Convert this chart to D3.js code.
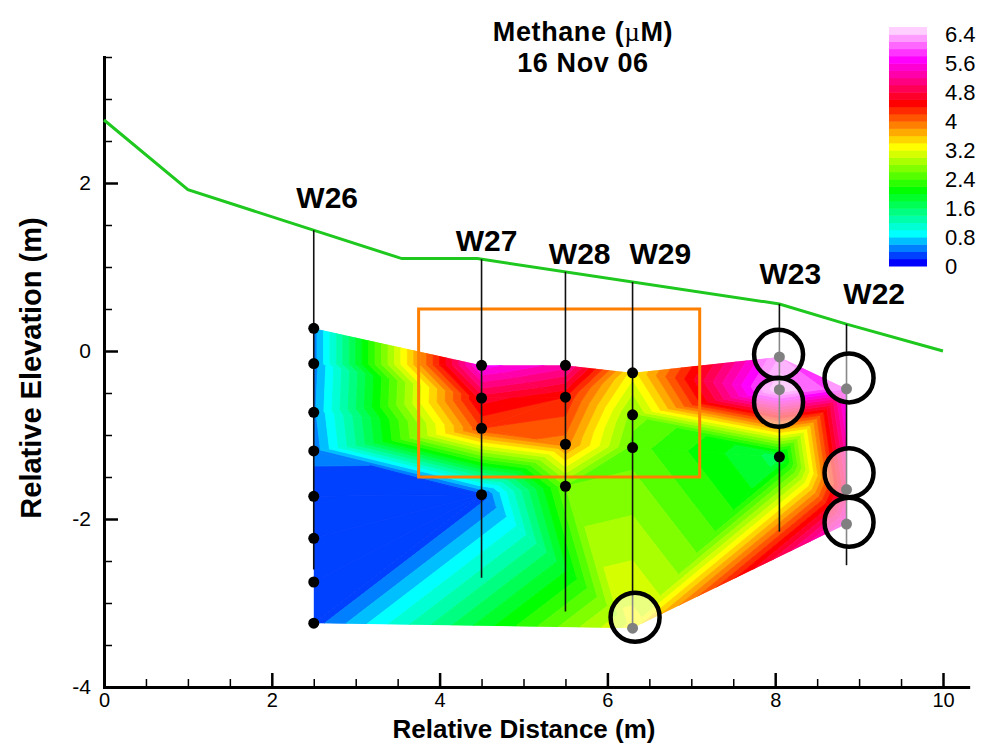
<!DOCTYPE html>
<html>
<head>
<meta charset="utf-8">
<script src="https://cdn.jsdelivr.net/npm/d3@7"></script>
<style>
  body { margin: 0; background: #fff; }
  svg { display: block; }
  text { font-family: "Liberation Sans", Arial, Helvetica, sans-serif; fill: #000; }
</style>
</head>
<body>
<svg id="chart" width="986" height="750"></svg>
<script>
// ---- Wells along the transect ----
const wellNames    = ["W26", "W27", "W28", "W29", "W23", "W22"];
const wellDistance = [2.5, 4.5, 5.5, 6.3, 8.05, 8.85];      // m
const wellBottom   = [-2.6, -2.7, -3.1, -3.3, -2.15, -2.55]; // m

// Sample elevations (m) in each well and the methane measured there (µM)
const sampleElevation = [
  [0.27, -0.15, -0.73, -1.19, -1.73, -2.23, -2.75, -3.24],
  [-0.17, -0.56, -0.92, -1.71],
  [-0.17, -0.55, -1.11, -1.61],
  [-0.26, -0.76, -1.15, -3.30],
  [-0.07, -0.46, -1.26],
  [-0.45, -1.65, -2.06]
];
const methane = [
  [0.5, 0.5, 0.55, 0.45, 0.3, 0.3, 0.3, 0.3],
  [5.7, 4.7, 4.2, 0.3],
  [5.3, 4.4, 3.9, 2.6],
  [3.3, 2.7, 2.5, 3.3],
  [6.0, 6.4, 1.7],
  [5.8, 5.0, 5.6]
];

// Outline of the sampled section, walked as [well, sample]
const outline = [
  [0, 0], [1, 0], [2, 0], [3, 0], [4, 0], [5, 0], [5, 1], [5, 2],
  [3, 3], [0, 7], [0, 6], [0, 5], [0, 4], [0, 3], [0, 2], [0, 1]
];

// Ground surface profile
const surfaceDistance  = [0, 1, 3.55, 4.45, 8.05, 8.85, 10];
const surfaceElevation = [2.75, 1.92, 1.1, 1.1, 0.56, 0.32, 0];

// Well name labels (data units)
const labelDistance  = [2.66, 4.56, 5.67, 6.63, 8.18, 9.18];
const labelElevation = [1.70, 1.19, 1.04, 1.04, 0.80, 0.56];

// Highlight circles (data units)
const circleDistance  = [6.33, 8.04, 8.04, 8.88, 8.88, 8.88];
const circleElevation = [-3.17, -0.04, -0.61, -0.32, -1.45, -2.04];

// Box around the zone of interest
const boxDistance  = [3.75, 7.1];
const boxElevation = [0.5, -1.5];

// Contour levels and colour map
const levelStep = 0.2;
const levelCount = 33;                 // bands 0 .. 6.6
const legendTicks = [0, 0.8, 1.6, 2.4, 3.2, 4, 4.8, 5.6, 6.4];
const colorStops  = [0.1, 0.9, 2.1, 3.3, 3.9, 4.5, 5.7, 6.5];
const colorValues = ["#0000ff", "#00ffff", "#00ff00", "#ffff00", "#ff8000", "#ff0000", "#ff00ff", "#ffd0ff"];

// Axis ticks
const xMajor = [0, 2, 4, 6, 8, 10];
const yMajor = [-4, -2, 0, 2];

// ---- Scales ----
const x = d3.scaleLinear().domain([0, 10.3]).range([104, 104 + 10.3 * 83.9]);
const y = d3.scaleLinear().domain([-4, 3.5]).range([687, 57]);
const color = d3.scaleLinear().domain(colorStops).range(colorValues).clamp(true);
const surfaceAt = d3.scaleLinear().domain(surfaceDistance).range(surfaceElevation);
const legendY = d3.scaleLinear().domain([0, levelStep * levelCount]).range([266, 27]);

const svg = d3.select("#chart");

// ---- Samples and triangulation ----
const samples = [];
wellNames.forEach((w, i) => sampleElevation[i].forEach((e, j) =>
  samples.push({ well: i, idx: j, d: wellDistance[i], e: e, v: methane[i][j] })));

const outlinePoly = outline.map(([w, j]) => [wellDistance[w], sampleElevation[w][j]]);
const delaunay = d3.Delaunay.from(samples, s => s.d, s => s.e);
const tris = [];
for (let t = 0; t < delaunay.triangles.length; t += 3) {
  const p = [0, 1, 2].map(k => samples[delaunay.triangles[t + k]]);
  const c = [d3.mean(p, s => s.d), d3.mean(p, s => s.e)];
  if (d3.polygonContains(outlinePoly, c)) tris.push(p);
}

// Clip a polygon with linear values against v >= t (above) or v <= t
function clipHalf(poly, t, above) {
  const out = [];
  const inside = q => above ? q.v >= t : q.v <= t;
  for (let i = 0; i < poly.length; i++) {
    const a = poly[i], b = poly[(i + 1) % poly.length];
    const ia = inside(a), ib = inside(b);
    if (ia) out.push(a);
    if (ia !== ib) {
      const s = (t - a.v) / (b.v - a.v);
      out.push({ x: a.x + s * (b.x - a.x), y: a.y + s * (b.y - a.y), v: t });
    }
  }
  return out;
}

const bands = [];
tris.forEach(p => {
  const poly = p.map(s => ({ x: x(s.d), y: y(s.e), v: s.v }));
  for (let k = 0; k < levelCount; k++) {
    const lo = k === 0 ? -1e9 : k * levelStep;
    const hi = k === levelCount - 1 ? 1e9 : (k + 1) * levelStep;
    let q = clipHalf(poly, lo, true);
    if (q.length < 3) continue;
    q = clipHalf(q, hi, false);
    if (q.length < 3) continue;
    bands.push({ pts: q, fill: color((k + 0.5) * levelStep) });
  }
});

svg.append("clipPath").attr("id", "section")
  .append("path")
  .attr("d", "M" + outlinePoly.map(p => x(p[0]) + "," + y(p[1])).join("L") + "Z");

svg.append("g").attr("clip-path", "url(#section)")
  .selectAll("path").data(bands).join("path")
  .attr("d", b => "M" + b.pts.map(q => q.x + "," + q.y).join("L") + "Z")
  .attr("fill", b => b.fill)
  .attr("stroke", b => b.fill)
  .attr("stroke-width", 0.8)
  .attr("stroke-linejoin", "round");

// ---- Axes ----
const xMinor = d3.range(0.5, 10.3, 0.5).filter(v => !xMajor.includes(v));
const yMinor = d3.range(-3.5, 3.51, 0.5).filter(v => !yMajor.includes(v));

function styleAxis(g, size) {
  g.attr("font-family", null).attr("font-size", null);
  g.selectAll(".tick text").style("font-size", size + "px");
}

const gxMinor = svg.append("g").attr("transform", "translate(0,687)")
  .call(d3.axisBottom(x).tickValues(xMinor).tickSize(-8).tickSizeOuter(0).tickFormat(""));
gxMinor.select(".domain").remove();
gxMinor.selectAll(".tick line").attr("stroke-width", 1.5);

const gyMinor = svg.append("g").attr("transform", "translate(104,0)")
  .call(d3.axisLeft(y).tickValues(yMinor).tickSize(-8).tickSizeOuter(0).tickFormat(""));
gyMinor.select(".domain").remove();
gyMinor.selectAll(".tick line").attr("stroke-width", 1.5);

const gx = svg.append("g").attr("transform", "translate(0,687)")
  .call(d3.axisBottom(x).tickValues(xMajor).tickSize(-14).tickSizeOuter(0)
    .tickPadding(6).tickFormat(d => String(d)));
styleAxis(gx, 20);
gx.selectAll(".tick line").attr("stroke-width", 2.5);

const gy = svg.append("g").attr("transform", "translate(104,0)")
  .call(d3.axisLeft(y).tickValues(yMajor).tickSize(-14).tickSizeOuter(0)
    .tickPadding(13).tickFormat(d => String(d)));
styleAxis(gy, 21);
gy.selectAll(".tick line").attr("stroke-width", 2.5);

[gx, gy].forEach(g => g.select(".domain")
  .attr("stroke-width", 3).attr("stroke-linecap", "square"));

// ---- Ground surface ----
svg.append("path")
  .datum(surfaceDistance.map((d, i) => [d, surfaceElevation[i]]))
  .attr("d", d3.line().x(p => x(p[0])).y(p => y(p[1])))
  .attr("fill", "none").attr("stroke", "#1ec81e").attr("stroke-width", 3);

// ---- Box ----
svg.append("rect")
  .attr("x", x(boxDistance[0])).attr("y", y(boxElevation[0]))
  .attr("width", x(boxDistance[1]) - x(boxDistance[0]))
  .attr("height", y(boxElevation[1]) - y(boxElevation[0]))
  .attr("fill", "none").attr("stroke", "#ff7f00").attr("stroke-width", 3);

// ---- Wells ----
svg.append("g").selectAll("line").data(wellNames).join("line")
  .attr("x1", (w, i) => x(wellDistance[i])).attr("x2", (w, i) => x(wellDistance[i]))
  .attr("y1", (w, i) => y(surfaceAt(wellDistance[i])))
  .attr("y2", (w, i) => y(wellBottom[i]))
  .attr("stroke", "#111").attr("stroke-width", 1.6);

svg.append("g").selectAll("circle").data(samples).join("circle")
  .attr("cx", s => x(s.d)).attr("cy", s => y(s.e)).attr("r", 5.5)
  .attr("fill", "#000");

// Highlight circles: half-transparent white fill over the section
svg.append("g").selectAll("circle").data(circleDistance).join("circle")
  .attr("cx", (d, i) => x(d)).attr("cy", (d, i) => y(circleElevation[i]))
  .attr("r", 24.5)
  .attr("fill", "#fff").attr("fill-opacity", 0.5)
  .attr("stroke", "#000").attr("stroke-width", 4.5);

svg.append("g").selectAll("text").data(wellNames).join("text")
  .attr("x", (w, i) => x(labelDistance[i])).attr("y", (w, i) => y(labelElevation[i]))
  .attr("text-anchor", "middle")
  .style("font-size", "30px").style("font-weight", "bold")
  .text(w => w);

// ---- Legend ----
const legend = svg.append("g");
legend.selectAll("rect").data(d3.range(levelCount)).join("rect")
  .attr("x", 889).attr("width", 38)
  .attr("y", k => legendY((k + 1) * levelStep))
  .attr("height", k => legendY(k * levelStep) - legendY((k + 1) * levelStep) + 0.5)
  .attr("fill", k => color((k + 0.5) * levelStep));
legend.selectAll("text").data(legendTicks).join("text")
  .attr("x", 945).attr("y", v => legendY(v)).attr("dy", "0.36em")
  .style("font-size", "22px")
  .text(v => String(v));

// ---- Titles ----
const title = svg.append("text").attr("x", 583).attr("y", 41).attr("text-anchor", "middle")
  .style("font-size", "27px").style("font-weight", "bold").style("letter-spacing", "0.6px");
title.append("tspan").text("Methane (");
title.append("tspan").style("font-weight", "normal")
  .style("font-family", "'Liberation Serif', 'DejaVu Serif', serif").text("µ");
title.append("tspan").text("M)");
svg.append("text").attr("x", 583).attr("y", 72).attr("text-anchor", "middle")
  .style("font-size", "27px").style("font-weight", "bold").style("letter-spacing", "0.6px")
  .text("16 Nov 06");

svg.append("text").attr("x", 524).attr("y", 738).attr("text-anchor", "middle")
  .style("font-size", "26px").style("font-weight", "bold").text("Relative Distance (m)");
svg.append("text").attr("transform", "translate(41,368) rotate(-90)").attr("text-anchor", "middle")
  .style("font-size", "29px").style("font-weight", "bold").text("Relative Elevation (m)");
</script>
</body>
</html>
